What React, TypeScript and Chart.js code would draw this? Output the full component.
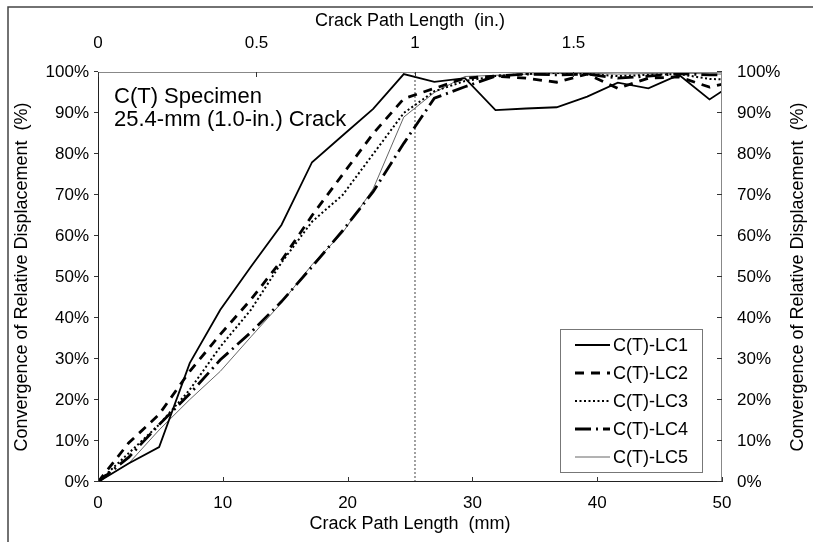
import { useEffect, useRef } from "react";
import { Chart, registerables } from "chart.js";

Chart.register(...registerables);

// Crack path length at each analysis step (mm)
const crackMm = [0, 2.45, 4.9, 7.35, 9.8, 12.25, 14.7, 17.15, 19.6, 22.05, 24.5, 26.95, 29.4, 31.85, 34.3, 36.75, 39.2, 41.65, 44.1, 46.55, 49.0, 50];

// Convergence of relative displacement (%) per load case
const lc1 = [0, 4.5, 8.5, 29, 42, 52.5, 62.7, 78, 84.5, 91, 99.5, 97.6, 98.5, 90.7, 91.1, 91.4, 94, 97.4, 96, 99.3, 93.3, 95.3];
const lc2 = [0, 9.5, 16.5, 27, 36, 44.5, 54, 65, 75, 85, 93.5, 96, 98.5, 99, 98.5, 97.5, 99.5, 96, 98.5, 98.8, 96.3, 97];
const lc3 = [0, 7, 14, 22.5, 33, 42, 53.5, 63.5, 70, 80, 90, 95.3, 97.8, 99, 99.5, 99.8, 99.5, 99, 99.3, 99.5, 98.3, 98.2];
const lc4 = [0, 6, 14, 21.5, 29.8, 36.5, 44, 52.5, 61.3, 70.8, 82.6, 93.6, 96.4, 99, 99.5, 99.3, 99.5, 98.5, 99, 99.6, 99.3, 99.3];
const lc5 = [0, 4.5, 12.7, 20.1, 27, 35.4, 43.7, 53, 60.8, 71.5, 89, 95, 98.9, 99.2, 99.5, 99.6, 99.7, 99.5, 99.6, 99.8, 99.5, 99.5];

const seriesNames = ["C(T)-LC1", "C(T)-LC2", "C(T)-LC3", "C(T)-LC4", "C(T)-LC5"];

// Axis ticks
const pctTicks = [0, 10, 20, 30, 40, 50, 60, 70, 80, 90, 100];
const mmTicks = [0, 10, 20, 30, 40, 50];
const inTicks = [0, 0.5, 1, 1.5];
const inTickLabels = ["0", "0.5", "1", "1.5"];

const initialCrackMm = 25.4;
const mmPerInch = 25.4;

const FONT = "'Liberation Sans', Arial, sans-serif";

type LineStyle = { color: string; width: number; dash: number[] };
const styles: LineStyle[] = [
  { color: "#000", width: 1.8, dash: [] },
  { color: "#000", width: 2.8, dash: [9, 7] },
  { color: "#000", width: 2, dash: [2, 2.5] },
  { color: "#000", width: 2.8, dash: [16, 5, 2, 5] },
  { color: "#666", width: 1, dash: [] },
];

const seriesValues = [lc1, lc2, lc3, lc4, lc5];

const decorPlugin = {
  id: "decor",
  beforeDraw(chart: any) {
    const ctx = chart.ctx;
    ctx.save();
    ctx.fillStyle = "#fff";
    ctx.fillRect(0, 0, chart.width, chart.height);
    ctx.restore();
  },
  afterDraw(chart: any) {
    const ctx: CanvasRenderingContext2D = chart.ctx;
    const { left, right, top, bottom } = chart.chartArea;
    const sx = chart.scales.x;
    const sxTop = chart.scales.x2;
    const sy = chart.scales.y;
    const syR = chart.scales.y2;
    ctx.save();

    // outer frame (top and left edges)
    ctx.strokeStyle = "#444";
    ctx.lineWidth = 1.5;
    ctx.beginPath();
    ctx.moveTo(8, chart.height);
    ctx.lineTo(8, 7);
    ctx.lineTo(chart.width, 7);
    ctx.stroke();

    // plot frame
    ctx.lineWidth = 1;
    ctx.strokeStyle = "#888";
    ctx.beginPath();
    ctx.moveTo(left, top + 0.5);
    ctx.lineTo(right, top + 0.5);
    ctx.moveTo(right - 0.5, top);
    ctx.lineTo(right - 0.5, bottom);
    ctx.stroke();
    ctx.strokeStyle = "#222";
    ctx.beginPath();
    ctx.moveTo(left + 0.5, top);
    ctx.lineTo(left + 0.5, bottom);
    ctx.moveTo(left, bottom - 0.5);
    ctx.lineTo(right, bottom - 0.5);
    ctx.stroke();

    // tick marks
    ctx.strokeStyle = "#333";
    ctx.beginPath();
    mmTicks.forEach((v) => {
      const px = Math.round(sx.getPixelForValue(v)) + 0.5;
      ctx.moveTo(px, bottom);
      ctx.lineTo(px, bottom - 5);
    });
    inTicks.forEach((v) => {
      const px = Math.round(sxTop.getPixelForValue(v)) + 0.5;
      ctx.moveTo(px, top);
      ctx.lineTo(px, top + 5);
    });
    pctTicks.forEach((v) => {
      const py = Math.round(sy.getPixelForValue(v)) - 0.5;
      ctx.moveTo(left, py);
      ctx.lineTo(left - 4, py);
      const pr = Math.round(syR.getPixelForValue(v)) - 0.5;
      ctx.moveTo(right, pr);
      ctx.lineTo(right - 5, pr);
    });
    ctx.stroke();

    // tick labels
    ctx.fillStyle = "#000";
    ctx.font = `17px ${FONT}`;
    ctx.textBaseline = "middle";
    ctx.textAlign = "center";
    mmTicks.forEach((v) => ctx.fillText(String(v), sx.getPixelForValue(v), bottom + 21));
    inTicks.forEach((v, i) => ctx.fillText(inTickLabels[i], sxTop.getPixelForValue(v), top - 29));
    ctx.textAlign = "right";
    pctTicks.forEach((v) => ctx.fillText(`${v}%`, left - 9, sy.getPixelForValue(v)));
    ctx.textAlign = "left";
    pctTicks.forEach((v) => ctx.fillText(`${v}%`, right + 15, syR.getPixelForValue(v)));

    // axis titles
    ctx.font = `18px ${FONT}`;
    ctx.textAlign = "center";
    const cx = (left + right) / 2;
    ctx.fillText("Crack Path Length  (in.)", cx, 21);
    ctx.fillText("Crack Path Length  (mm)", cx, bottom + 42);
    const cy = (top + bottom) / 2;
    const yTitle = "Convergence of Relative Displacement  (%)";
    ctx.save();
    ctx.translate(22, cy);
    ctx.rotate(-Math.PI / 2);
    ctx.fillText(yTitle, 0, 0);
    ctx.restore();
    ctx.save();
    ctx.translate(798, cy);
    ctx.rotate(-Math.PI / 2);
    ctx.fillText(yTitle, 0, 0);
    ctx.restore();

    // specimen annotation
    ctx.font = `22px ${FONT}`;
    ctx.textAlign = "left";
    ctx.textBaseline = "alphabetic";
    ctx.fillText("C(T) Specimen", left + 16, top + 31);
    ctx.fillText("25.4-mm (1.0-in.) Crack", left + 16, top + 54);

    // legend
    const lx = 560, ly = 329, lw = 142, lh = 143;
    ctx.fillStyle = "#fff";
    ctx.fillRect(lx, ly, lw, lh);
    ctx.strokeStyle = "#777";
    ctx.lineWidth = 1;
    ctx.strokeRect(lx + 0.5, ly + 0.5, lw, lh);
    ctx.font = `18px ${FONT}`;
    ctx.textBaseline = "middle";
    seriesNames.forEach((name, i) => {
      const rowY = ly + 16 + i * 28;
      const st = styles[i];
      ctx.save();
      ctx.strokeStyle = st.color;
      ctx.lineWidth = st.width;
      ctx.setLineDash(st.dash);
      ctx.beginPath();
      ctx.moveTo(575, rowY);
      ctx.lineTo(610, rowY);
      ctx.stroke();
      ctx.restore();
      ctx.fillStyle = "#000";
      ctx.fillText(name, 613, rowY + 1);
    });

    ctx.restore();
  },
};

export default function App() {
  const canvasRef = useRef<HTMLCanvasElement | null>(null);

  useEffect(() => {
    if (!canvasRef.current) return;
    const datasets: any[] = seriesValues.map((vals, i) => ({
      label: seriesNames[i],
      data: crackMm.map((x, j) => ({ x, y: vals[j] })),
      borderColor: styles[i].color,
      borderWidth: styles[i].width,
      borderDash: styles[i].dash,
      pointRadius: 0,
      fill: false,
      tension: 0,
      xAxisID: "x",
      yAxisID: "y",
    }));
    datasets.push({
      label: "initial crack",
      data: [
        { x: initialCrackMm, y: 0 },
        { x: initialCrackMm, y: 100 },
      ],
      borderColor: "#444",
      borderWidth: 1,
      borderDash: [2, 2],
      pointRadius: 0,
      xAxisID: "x",
      yAxisID: "y",
    });

    const hiddenAxis = {
      grid: { display: false, drawTicks: false },
      border: { display: false },
      ticks: { display: false },
    };

    const chart = new Chart(canvasRef.current, {
      type: "line",
      data: { datasets },
      options: {
        responsive: false,
        animation: false,
        devicePixelRatio: 1,
        layout: { padding: 0 },
        plugins: { legend: { display: false }, tooltip: { enabled: false } },
        scales: {
          x: {
            type: "linear",
            position: "bottom",
            min: 0,
            max: 50,
            ...hiddenAxis,
            afterFit: (s: any) => {
              s.height = 60;
            },
          },
          x2: {
            type: "linear",
            position: "top",
            min: 0,
            max: 50 / mmPerInch,
            ...hiddenAxis,
            afterFit: (s: any) => {
              s.height = 72;
            },
          },
          y: {
            type: "linear",
            position: "left",
            min: 0,
            max: 100,
            ...hiddenAxis,
            afterFit: (s: any) => {
              s.width = 98;
            },
          },
          y2: {
            type: "linear",
            position: "right",
            min: 0,
            max: 100,
            ...hiddenAxis,
            afterFit: (s: any) => {
              s.width = 91;
            },
          },
        },
      } as any,
      plugins: [decorPlugin],
    });
    return () => chart.destroy();
  }, []);

  return (
    <div style={{ position: "absolute", left: 0, top: 0, width: 813, height: 542, background: "#fff" }}>
      <canvas ref={canvasRef} width={813} height={542} />
    </div>
  );
}
